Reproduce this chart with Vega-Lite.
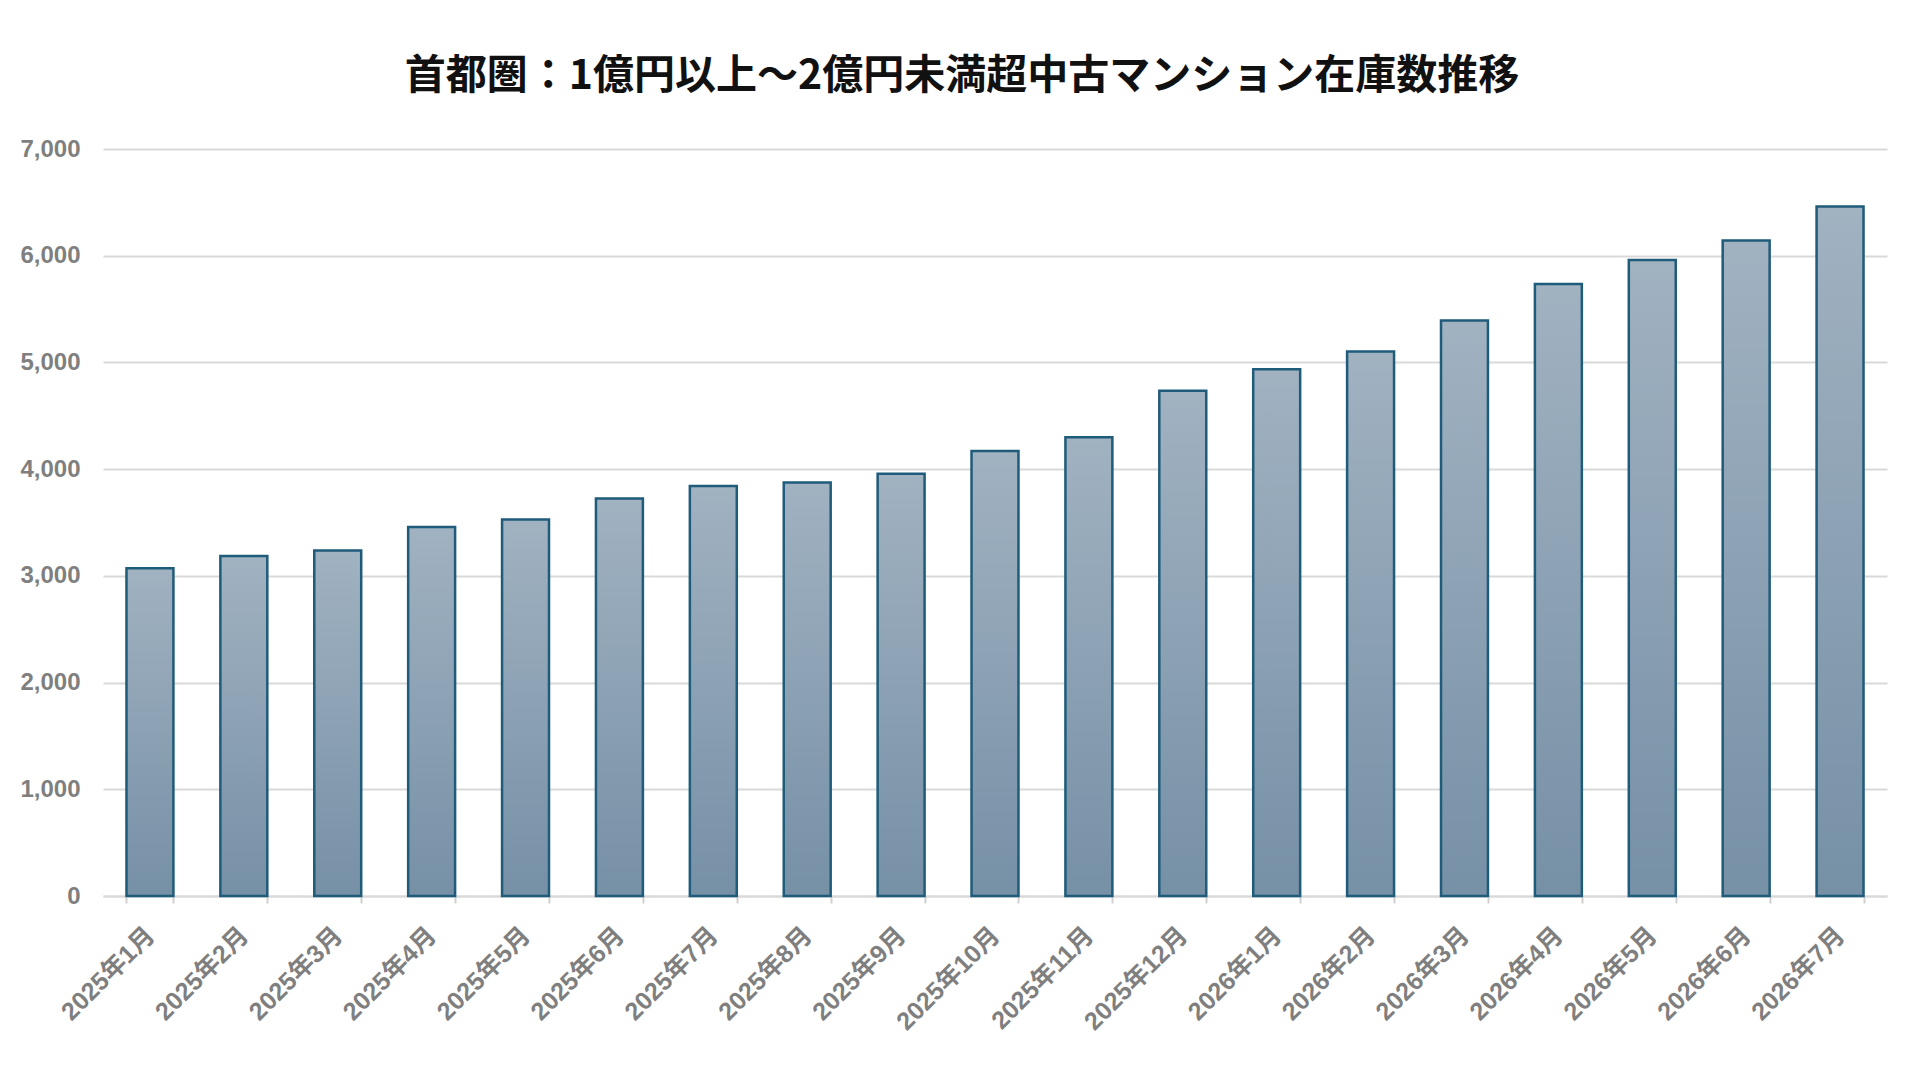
{
  "$schema": "https://vega.github.io/schema/vega-lite/v6.json",
  "width": 1784,
  "height": 747,
  "autosize": {"type": "none"},
  "padding": {"left": 103, "top": 149, "right": 33, "bottom": 184},
  "background": "#ffffff",
  "title": {
    "text": "首都圏：1億円以上～2億円未満超中古マンション在庫数推移",
    "font": "Noto Sans CJK JP",
    "fontSize": 41,
    "fontWeight": "bold",
    "color": "#111111",
    "anchor": "middle",
    "frame": "group",
    "baseline": "bottom",
    "offset": 50,
    "dy": 52,
    "dx": -33
  },
  "config": {
    "view": {"stroke": null},
    "axis": {
      "labelFont": "'Liberation Sans', 'Noto Sans CJK JP', sans-serif",
      "labelFontWeight": "bold",
      "labelColor": "#7f7f7f",
      "labelFontSize": 24
    }
  },
  "data": {
    "values": [
      {"month": "2025年1月", "stock": 3072},
      {"month": "2025年2月", "stock": 3185},
      {"month": "2025年3月", "stock": 3238},
      {"month": "2025年4月", "stock": 3459},
      {"month": "2025年5月", "stock": 3528},
      {"month": "2025年6月", "stock": 3725},
      {"month": "2025年7月", "stock": 3843},
      {"month": "2025年8月", "stock": 3874},
      {"month": "2025年9月", "stock": 3956},
      {"month": "2025年10月", "stock": 4171},
      {"month": "2025年11月", "stock": 4300},
      {"month": "2025年12月", "stock": 4734},
      {"month": "2026年1月", "stock": 4935},
      {"month": "2026年2月", "stock": 5103},
      {"month": "2026年3月", "stock": 5394},
      {"month": "2026年4月", "stock": 5734},
      {"month": "2026年5月", "stock": 5960},
      {"month": "2026年6月", "stock": 6143},
      {"month": "2026年7月", "stock": 6462}
    ]
  },
  "mark": {
    "type": "bar",
    "fill": {
      "gradient": "linear",
      "x1": 0, "y1": 0, "x2": 0, "y2": 1,
      "stops": [
        {"offset": 0, "color": "#a1b2c1"},
        {"offset": 1, "color": "#7690a6"}
      ]
    },
    "stroke": "#1f5b7a",
    "strokeWidth": 2.5
  },
  "encoding": {
    "x": {
      "field": "month",
      "type": "nominal",
      "sort": null,
      "title": null,
      "scale": {"paddingInner": 0.5, "paddingOuter": 0.25},
      "axis": {
        "labelAngle": -45,
        "labelAlign": "right",
        "labelBaseline": "middle",
        "labelFontSize": 25,
        "labelPadding": 28,
        "tickBand": "extent",
        "ticks": true,
        "tickSize": 7,
        "tickColor": "#d0d0d0",
        "tickWidth": 2,
        "domainColor": "#d9d9d9",
        "domainWidth": 2,
        "grid": false
      }
    },
    "y": {
      "field": "stock",
      "type": "quantitative",
      "title": null,
      "scale": {"domain": [0, 7000], "nice": false},
      "axis": {
        "values": [0, 1000, 2000, 3000, 4000, 5000, 6000, 7000],
        "format": ",.0f",
        "domain": false,
        "ticks": false,
        "labelPadding": 23,
        "gridColor": "#d9d9d9",
        "gridWidth": 2
      }
    }
  }
}
